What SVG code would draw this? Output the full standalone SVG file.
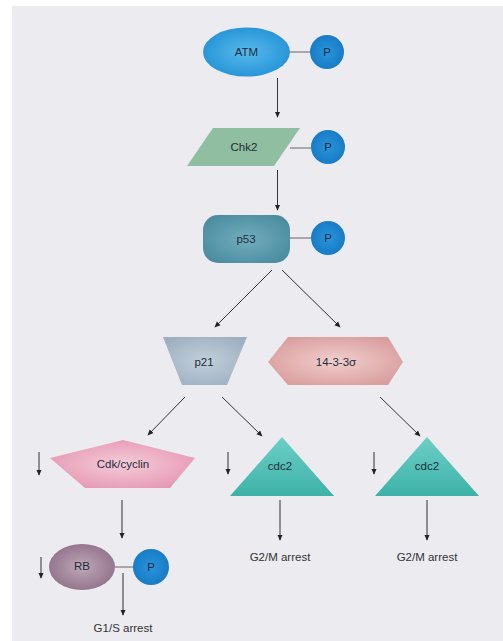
<svg xmlns="http://www.w3.org/2000/svg" width="503" height="641" viewBox="0 0 503 641">
<style>
.lbl{font-family:"Liberation Sans",Arial,sans-serif;font-size:11.5px;fill:#222c3a;text-anchor:middle;dominant-baseline:central}
.out{font-family:"Liberation Sans",Arial,sans-serif;font-size:11.5px;fill:#333;text-anchor:middle}
.arr{stroke:#333;stroke-width:1;fill:none;marker-end:url(#ah)}
.lnk{stroke:#7a7a80;stroke-width:1.2;fill:none}
.p{fill:url(#gP)}
</style>
<defs>
<marker id="ah" viewBox="0 0 8 8" refX="7" refY="4" markerWidth="6" markerHeight="6" markerUnits="userSpaceOnUse" orient="auto">
<path d="M0,0.5 L8,4 L0,7.5 Z" fill="#222"/>
</marker>
<radialGradient id="gATM" cx="0.5" cy="0.5" r="0.6"><stop offset="0" stop-color="#58b9ec"/><stop offset="1" stop-color="#1f8fd4"/></radialGradient>
<radialGradient id="gP" cx="0.5" cy="0.5" r="0.6"><stop offset="0" stop-color="#2895dc"/><stop offset="1" stop-color="#1576c2"/></radialGradient>
<radialGradient id="gP53" cx="0.5" cy="0.5" r="0.6"><stop offset="0" stop-color="#72adbd"/><stop offset="1" stop-color="#4a8c9f"/></radialGradient>
<radialGradient id="gP21" cx="0.5" cy="0.5" r="0.6"><stop offset="0" stop-color="#c2cfdb"/><stop offset="1" stop-color="#9db0c1"/></radialGradient>
<radialGradient id="g1433" cx="0.5" cy="0.5" r="0.6"><stop offset="0" stop-color="#f1cfcd"/><stop offset="1" stop-color="#d89c9c"/></radialGradient>
<radialGradient id="gCdk" cx="0.5" cy="0.5" r="0.6"><stop offset="0" stop-color="#f5cbd9"/><stop offset="1" stop-color="#e596b2"/></radialGradient>
<linearGradient id="gCdc" x1="0" y1="0" x2="0" y2="1"><stop offset="0" stop-color="#6dcfc6"/><stop offset="1" stop-color="#3db2a8"/></linearGradient>
<radialGradient id="gRB" cx="0.5" cy="0.5" r="0.6"><stop offset="0" stop-color="#bea8b8"/><stop offset="1" stop-color="#8d6c85"/></radialGradient>
</defs>
<rect x="0" y="0" width="503" height="641" fill="#ffffff"/>
<rect x="12" y="6" width="491" height="635" fill="#ebebf0"/>

<g id="connectors">
<path class="lnk" d="M290,52 H311"/>
<path class="lnk" d="M290,148 H311"/>
<path class="lnk" d="M290,238 H311"/>
<path class="lnk" d="M115,567 H134"/>
<path class="arr" d="M277.5,78 V117"/>
<path class="arr" d="M277.5,170 V210"/>
<path class="arr" d="M272,270 L215,327"/>
<path class="arr" d="M282,270 L340,327"/>
<path class="arr" d="M185,397 L148,435"/>
<path class="arr" d="M222,397 L262,436"/>
<path class="arr" d="M380,397 L420,436"/>
<path class="arr" d="M122,500 V538"/>
<path class="arr" d="M280,500 V540"/>
<path class="arr" d="M427,500 V540"/>
<path class="arr" d="M123,573 V615"/>
<path class="arr" d="M39,452 V475"/>
<path class="arr" d="M228,452 V474"/>
<path class="arr" d="M374,452 V474"/>
<path class="arr" d="M41,557 V578"/>
</g>

<g id="ATM">
<ellipse cx="246.5" cy="52" rx="43.5" ry="24.5" fill="url(#gATM)"/>
<text class="lbl" x="246.5" y="52">ATM</text>
</g>
<g id="ATM-P">
<circle class="p" cx="327" cy="52" r="17"/>
<text class="lbl" x="327" y="52">P</text>
</g>

<g id="Chk2">
<polygon points="213,128 300,128 274,166 187,166" fill="#90bea0"/>
<text class="lbl" x="244" y="147">Chk2</text>
</g>
<g id="Chk2-P">
<circle class="p" cx="328" cy="147" r="17"/>
<text class="lbl" x="328" y="147">P</text>
</g>

<g id="p53">
<rect x="203" y="215" width="87" height="48" rx="15" fill="url(#gP53)"/>
<text class="lbl" x="246" y="239">p53</text>
</g>
<g id="p53-P">
<circle class="p" cx="328" cy="238" r="17"/>
<text class="lbl" x="328" y="238">P</text>
</g>

<g id="p21">
<polygon points="163,337 247,337 227,385 182,385" fill="url(#gP21)"/>
<text class="lbl" x="204" y="362">p21</text>
</g>

<g id="n14-3-3s">
<polygon points="268,362 288,337 388,337 403,362 388,385 288,385" fill="url(#g1433)"/>
<text class="lbl" x="336" y="362">14-3-3σ</text>
</g>

<g id="Cdk-cyclin">
<polygon points="123,440 195,458 170,488 85,488 50,458" fill="url(#gCdk)"/>
<text class="lbl" x="123" y="464">Cdk/cyclin</text>
</g>

<g id="cdc2-a">
<polygon points="282,437 334,496 230,496" fill="url(#gCdc)"/>
<text class="lbl" x="280" y="466">cdc2</text>
</g>
<g id="cdc2-b">
<polygon points="427,437 479,496 375,496" fill="url(#gCdc)"/>
<text class="lbl" x="427" y="466">cdc2</text>
</g>

<g id="RB">
<ellipse cx="82" cy="567" rx="33" ry="23" fill="url(#gRB)"/>
<text class="lbl" x="82" y="566">RB</text>
</g>
<g id="RB-P">
<circle class="p" cx="151" cy="567" r="18"/>
<text class="lbl" x="151" y="567">P</text>
</g>

<g id="labels">
<text class="out" x="280" y="561">G2/M arrest</text>
<text class="out" x="427" y="561">G2/M arrest</text>
<text class="out" x="123" y="632">G1/S arrest</text>
</g>
</svg>
